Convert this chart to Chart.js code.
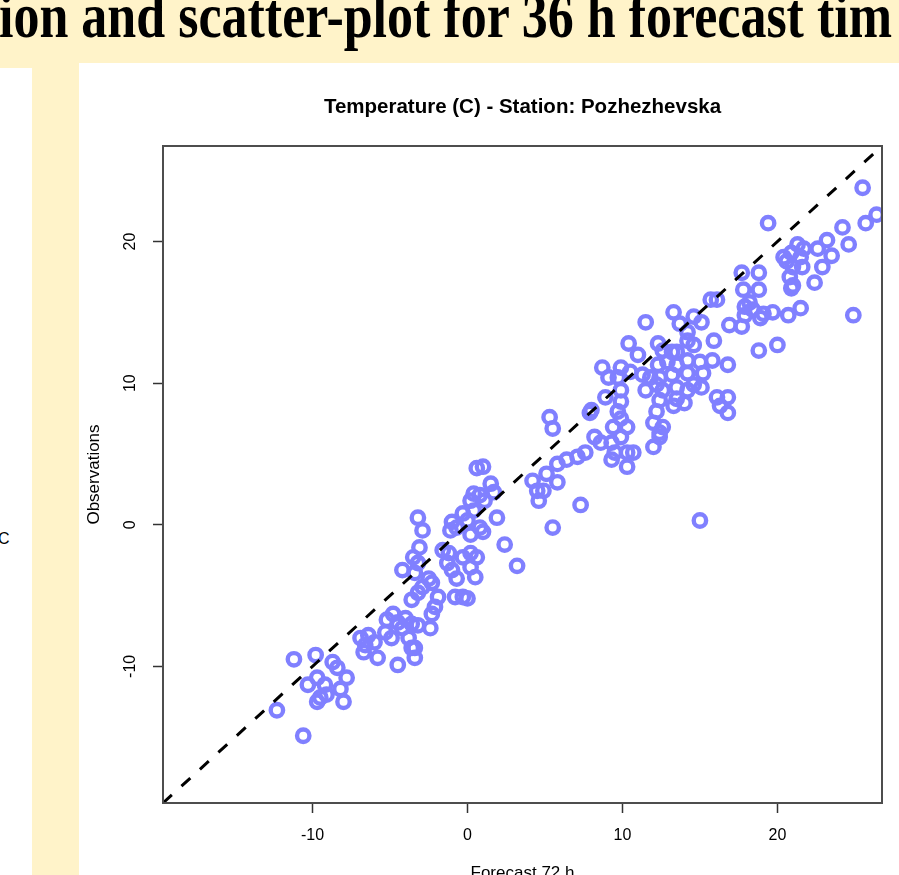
<!DOCTYPE html>
<html>
<head>
<meta charset="utf-8">
<script src="https://cdn.jsdelivr.net/npm/chart.js@4.4.1/dist/chart.umd.min.js"></script>
<style>
  html, body { margin:0; padding:0; width:899px; height:875px; overflow:hidden; background:#fff3c9; }
  #head { position:absolute; left:-1px; top:-6px; white-space:nowrap; font:bold 52px "Liberation Serif","Times New Roman",serif; line-height:52px; color:#000; transform:scaleY(1.2); transform-origin:0 43.5px; }
  #leftcol { position:absolute; left:0; top:68px; width:32px; height:900px; background:#fff; overflow:hidden; }
  #leftcol span { position:absolute; left:-2px; top:462px; font:16px "Liberation Sans",Arial,sans-serif; color:#000; }
  #panel { position:absolute; left:79px; top:63px; width:820px; height:850px; background:#fff; }
  canvas { display:block; }
</style>
</head>
<body>
<div id="head">ion and scatter-plot for 36 h forecast tim</div>
<div id="leftcol"><span>C</span></div>
<div id="panel"><canvas id="c" width="820" height="850"></canvas></div>
<script>
const chartTitle = 'Temperature (C) - Station: Pozhezhevska';
const xTitle = 'Forecast 72 h';
const yTitle = 'Observations';
const tickValues = [-10, 0, 10, 20];
const axisLimits = [-19.65, 26.75];
const refLine = [-19.65, 26.75]; // y = x reference line end values

const forecast = [
  -11.2,-9.8,-12.3,-10.6,-8.7,-8.4,-7.8,-9.7,-10.3,-9.2,-8.2,-9.5,-9.1,-8.0,-9.7,-6.9,-6.6,-6.4,-6.0,-5.8,
  -6.7,-4.5,-3.4,-3.4,-5.2,-4.8,-4.5,-4.2,-4.0,-3.6,-3.2,-3.8,-3.6,-4.9,-5.3,-2.4,-2.3,-2.1,-1.9,-3.2,
  -3.6,-2.9,-2.5,-2.3,-3.4,-4.2,-3.2,-1.0,-0.7,-0.8,-0.3,-1.3,
  0.6,1.0,1.5,1.7,0.4,0.8,0.2,1.1,-0.3,0.4,-1.0,-1.1,-0.7,0.0,0.8,1.0,0.2,1.9,-3.2,-2.9,-3.1,-3.5,
  -1.6,-1.2,-0.3,0.2,0.6,0.2,0.5,0.0,2.4,3.2,5.5,
  11.5,13.3,15.7,16.1,15.1,14.6,16.9,13.7,14.2,14.2,15.9,14.6,13.5,13.2,12.6,12.3,10.4,11.0,12.3,12.9,
  13.5,14.2,15.0,15.8,16.8,15.2,14.2,13.2,12.4,11.8,11.3,9.9,8.7,9.1,9.7,10.5,11.5,12.2,12.6,13.5,
  14.2,14.6,15.1,13.5,12.4,13.3,14.0,9.9,8.9,9.9,9.7,9.9,9.4,10.3,9.9,9.3,9.5,10.3,10.7,10.3,
  9.3,8.2,8.6,12.2,12.0,12.6,12.4,12.0,16.1,16.8,16.8,16.3,8.0,7.9,5.3,5.5,7.6,7.1,6.4,5.8,
  5.1,4.2,5.8,4.5,4.9,4.6,7.3,15.0,12.4,
  25.5,26.4,25.7,24.2,24.6,23.2,23.5,22.6,22.9,22.4,21.3,21.7,21.5,20.9,20.4,20.6,21.0,21.6,20.8,21.0,
  20.9,19.4,17.7,18.8,17.8,18.8,18.2,17.9,18.4,17.9,19.1,19.7,18.9,20.7,21.5,24.9,17.7,18.8,20.0
];
const observed = [
  -9.5,-9.2,-13.1,-14.9,-9.7,-10.1,-10.8,-10.8,-11.3,-11.3,-11.6,-12.2,-12.0,-12.5,-12.5,-8.0,-8.5,-7.8,-8.3,-9.4,
  -9.0,-9.9,-9.4,-8.7,-6.7,-6.3,-6.9,-7.3,-6.6,-7.0,-7.1,-8.0,-8.7,-8.0,-7.6,-7.3,-6.3,-5.8,-5.1,-4.8,
  -5.3,-4.4,-3.8,-4.1,-3.4,-3.2,-2.7,-3.2,-3.8,-5.1,-5.1,-2.7,
  4.0,4.1,2.9,2.3,2.2,2.1,1.7,1.7,0.8,1.0,0.2,-0.4,-0.2,0.3,-0.2,-0.5,-0.7,0.5,0.5,-0.4,-1.6,-2.3,
  -1.8,-2.0,-2.3,-2.0,-2.3,-3.0,-3.7,-5.2,-1.4,-2.9,-0.2,
  14.3,15.0,15.9,15.9,14.3,14.7,14.1,14.2,13.6,13.0,13.0,12.7,12.2,12.2,12.3,12.8,12.8,12.0,11.3,11.5,
  11.3,11.6,11.5,11.6,11.3,10.7,10.7,10.6,10.4,10.4,10.6,11.1,11.1,10.4,10.4,10.8,9.5,9.9,9.5,9.7,
  9.5,9.9,9.7,8.9,8.8,8.4,8.6,9.5,9.0,8.7,8.0,7.5,6.9,6.9,6.2,5.8,5.1,5.1,5.1,4.1,
  4.6,6.2,5.8,8.0,7.2,6.9,6.2,5.5,9.0,9.0,7.9,8.4,8.1,7.9,7.6,6.8,5.1,4.8,4.6,4.3,
  3.6,3.1,3.0,2.4,2.4,1.7,1.4,0.3,6.5,
  23.8,21.9,21.3,21.0,19.8,20.1,19.0,19.5,18.2,17.1,19.8,19.5,18.9,19.2,18.9,18.6,18.2,18.2,17.5,16.9,
  16.7,21.3,17.8,17.8,16.6,16.6,15.7,15.4,15.2,14.8,14.9,15.0,14.6,14.8,15.3,14.8,14.0,12.3,12.7
];

const FONT = '"Liberation Sans", Arial, Helvetica, sans-serif';
const points = forecast.map((x, i) => ({ x: x, y: observed[i] }));
const lineData = refLine.map(v => ({ x: v, y: v }));

const frame = {
  id: 'frame',
  afterDatasetsDraw(chart) {
    const { ctx, chartArea: a } = chart;
    ctx.save();
    ctx.strokeStyle = '#4d4d4d';
    ctx.lineWidth = 2;
    ctx.strokeRect(a.left, a.top, a.right - a.left, a.bottom - a.top);
    ctx.restore();
  }
};

function axisCommon(extra) {
  return Object.assign({
    type: 'linear',
    min: axisLimits[0],
    max: axisLimits[1],
    afterBuildTicks: (s) => { s.ticks = tickValues.map(v => ({ value: v })); },
    grid: { display: true, drawOnChartArea: false, drawTicks: true, tickLength: 10, tickColor: '#333', tickWidth: 1.5 },
    border: { display: false }
  }, extra);
}

new Chart(document.getElementById('c'), {
  type: 'scatter',
  data: {
    datasets: [
      {
        data: lineData, showLine: true, borderColor: '#000', borderWidth: 3,
        borderDash: [12, 13], pointRadius: 0, pointHoverRadius: 0, fill: false, clip: 0, order: 0
      },
      {
        data: points, showLine: false, pointStyle: 'circle', pointRadius: 6.2, pointHoverRadius: 6.2,
        pointBorderWidth: 4.4, pointBorderColor: '#8080ff', pointBackgroundColor: 'rgba(0,0,0,0)',
        clip: 0, order: 1
      }
    ]
  },
  options: {
    responsive: false,
    animation: false,
    events: [],
    layout: { padding: { left: 0, right: 17, top: 0, bottom: 0 } },
    plugins: {
      legend: { display: false },
      tooltip: { enabled: false },
      title: {
        display: true, text: chartTitle, fullSize: false, color: '#000',
        font: { family: FONT, size: 20.5, weight: 'bold', lineHeight: 1.2 },
        padding: { top: 31.7, bottom: 26.7 }
      }
    },
    scales: {
      x: axisCommon({
        position: 'bottom',
        afterFit: (s) => { s.height = 110; },
        ticks: { color: '#000', font: { family: FONT, size: 16 }, padding: 13, minRotation: 0, maxRotation: 0 },
        title: { display: true, text: xTitle, color: '#000', font: { family: FONT, size: 17 }, padding: { top: 0, bottom: 29 } }
      }),
      y: axisCommon({
        position: 'left',
        afterFit: (s) => { s.width = 84; },
        ticks: { color: '#000', font: { family: FONT, size: 16 }, padding: 11, minRotation: 90, maxRotation: 90, crossAlign: 'center' },
        title: { display: true, text: yTitle, color: '#000', font: { family: FONT, size: 17 }, padding: { top: 5.5, bottom: 0 } }
      })
    }
  },
  plugins: [frame]
});
</script>
</body>
</html>
